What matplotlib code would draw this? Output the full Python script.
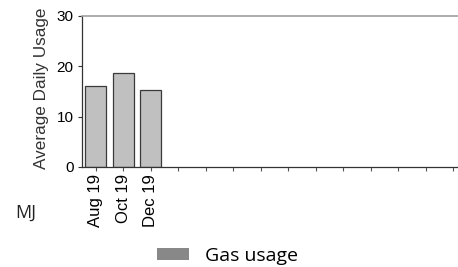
import matplotlib
matplotlib.use("Agg")
import matplotlib.pyplot as plt
from matplotlib.patches import Patch

# data
months = ["Aug 19", "Oct 19", "Dec 19", "", "", "", "", "", "", "", "", "", "", ""]
gas_usage = [16.0, 18.7, 15.2]
y_ticks = [0, 10, 20, 30]

plt.rcParams["font.family"] = ["Liberation Sans", "DejaVu Sans"]

fig = plt.figure(figsize=(4.58, 2.67), dpi=100)
ax = fig.add_axes([82 / 458, 1 - 167 / 267, 1 - 82 / 458, (167 - 16) / 267])

positions = list(range(len(months)))
ax.bar(positions[:len(gas_usage)], gas_usage, width=0.75,
       color="#c0c0c0", edgecolor="#3a3a3a", linewidth=0.9)

ax.set_xlim(-0.5, 13.17)
ax.set_ylim(0, 30)
ax.set_yticks(y_ticks)
ax.set_xticks(positions)
ax.set_xticklabels(months, rotation=90, fontsize=12)
ax.tick_params(axis="y", labelsize=11, length=3, color="#333333", pad=3)
ax.tick_params(axis="x", length=3, color="#555555", pad=2)

for side in ["left", "bottom"]:
    ax.spines[side].set_color("#333333")
    ax.spines[side].set_linewidth(0.9)
ax.spines["top"].set_color("#a0a0a0")
ax.spines["top"].set_linewidth(1.2)
ax.spines["right"].set_visible(False)

ax.set_ylabel("Average Daily Usage", fontsize=12.3, color="#333333")
ax.yaxis.set_label_coords(-0.087, 0.52)

fig.text(15 / 458, 1 - 213 / 267, "MJ", fontsize=13, family="Open Sans",
         va="center", ha="left", color="#222222")

handle = Patch(facecolor="#888888", edgecolor="none")
fig.legend(handles=[handle], labels=["Gas usage"], loc="center",
           bbox_to_anchor=(227.5 / 458, 1 - 256 / 267), frameon=False,
           prop={"family": "Open Sans", "size": 14},
           handlelength=1.6, handleheight=0.62, handletextpad=0.82,
           borderpad=0, borderaxespad=0)

fig.savefig("out.png", dpi=100)
plt.close(fig)
